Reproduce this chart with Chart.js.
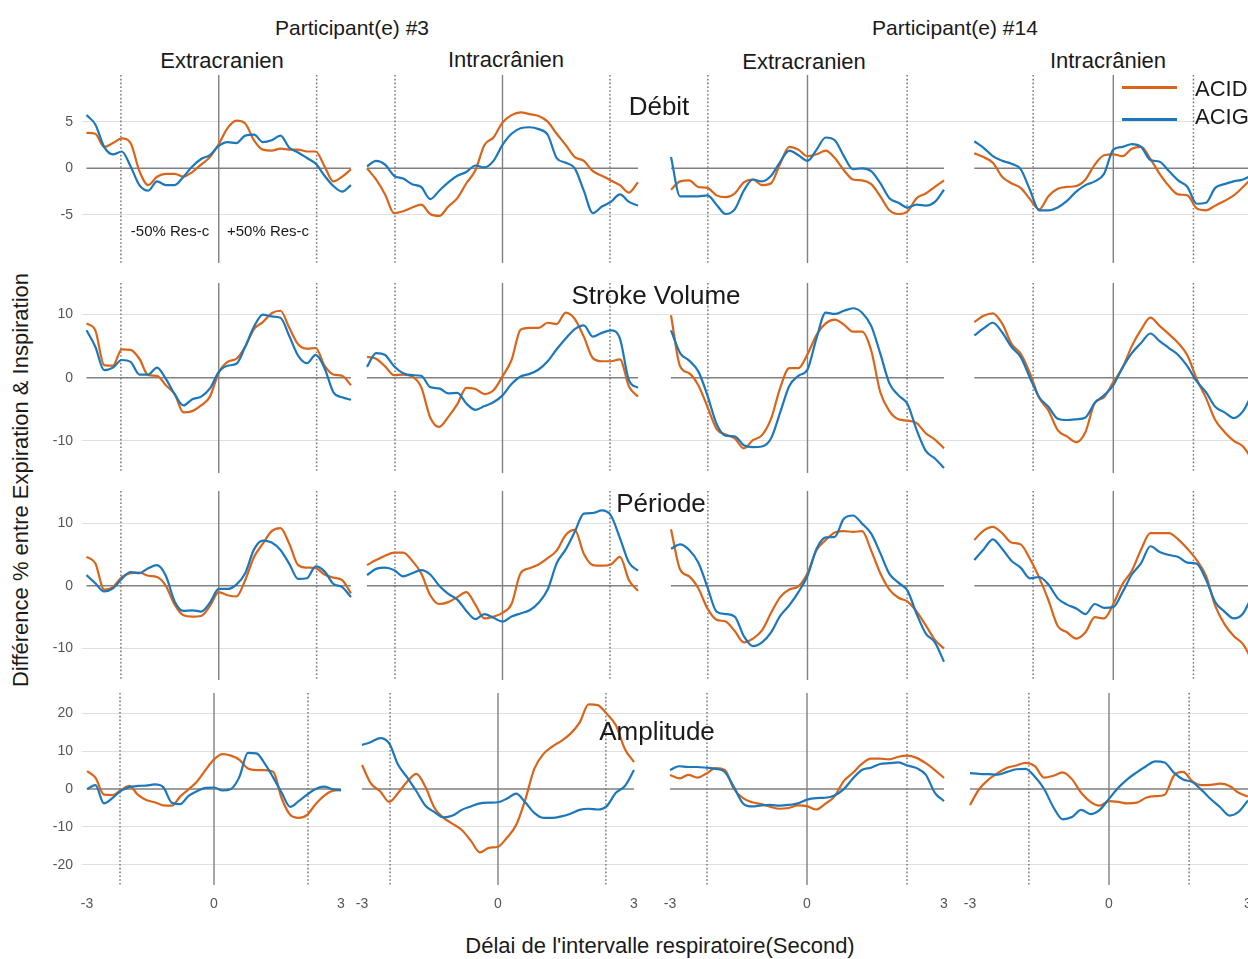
<!DOCTYPE html>
<html>
<head>
<meta charset="utf-8">
<script src="https://cdn.jsdelivr.net/npm/chart.js@4.4.1/dist/chart.umd.min.js"></script>
<style>
  body { margin: 0; width: 1248px; height: 959px; overflow: hidden; background: #fff; position: relative;
         font-family: "Liberation Sans", Arial, sans-serif; color: #1a1a1a; }
  canvas { position: absolute; }
  .t { position: absolute; white-space: nowrap; transform: translate(-50%, -50%); }
  .key { position: absolute; height: 2.5px; width: 55px; }
</style>
</head>
<body>
<script>
// respiratory delay (s), common to every panel
const delais = [-3,-2.8,-2.6,-2.4,-2.2,-2,-1.8,-1.6,-1.4,-1.2,-1,-0.8,-0.6,-0.4,-0.2,0,0.2,0.4,0.6,0.8,1,1.2,1.4,1.6,1.8,2,2.2,2.4,2.6,2.8,3];

const participants = ['Participant(e) #3', 'Participant(e) #14'];
const sites = ['Extracranien', 'Intracrânien', 'Extracranien', 'Intracrânien'];
const mesures = ['Débit', 'Stroke Volume', 'Période', 'Amplitude'];
const arteres = ['ACID', 'ACIG'];
const yTicks = [[-5, 0, 5], [-10, 0, 10], [-10, 0, 10], [-20, -10, 0, 10, 20]];
const xTicks = [-3, 0, 3];
const resC = [2.22, 2.38, 2.19, 1.73];   // ±50% Res-c per column

// Débit
const debitP3ExtraAcid = [3.8,3.7,2.3,2.7,3.2,2.7,-0.3,-1.8,-0.9,-0.6,-0.6,-0.9,-0.4,0.4,1.2,2.6,4.3,5.1,4.8,3.0,2.0,1.9,2.1,2.0,2.0,1.8,1.8,0.2,-1.4,-0.9,-0.1];
const debitP3ExtraAcig = [5.7,4.7,2.3,1.5,1.8,0.2,-1.8,-2.4,-1.4,-1.8,-1.8,-0.9,0.2,1.0,1.4,2.4,2.8,2.7,3.5,3.6,2.8,3.0,3.5,2.2,1.7,1.1,0.5,-0.8,-1.9,-2.5,-1.8];
const debitP3IntraAcid = [0.0,-1.2,-2.8,-4.8,-4.6,-4.2,-3.9,-4.9,-5.1,-4.1,-3.2,-1.6,-0.2,2.5,3.3,4.9,5.7,6.0,5.8,5.6,5.0,3.7,2.5,1.2,0.8,-0.3,-0.8,-1.3,-1.8,-2.6,-1.5];
const debitP3IntraAcig = [0.2,0.8,0.4,-0.8,-1.1,-1.7,-2.0,-3.3,-2.4,-1.5,-0.8,-0.4,0.3,0.1,0.8,2.5,3.7,4.3,4.4,4.2,3.6,1.1,0.6,0.0,-2.4,-4.8,-4.1,-3.6,-2.8,-3.6,-4.0];
const debitP14ExtraAcid = [-2.3,-1.4,-1.3,-2.0,-2.1,-2.9,-3.1,-2.7,-1.5,-1.2,-1.8,-1.6,0.5,2.3,2.0,1.3,1.5,1.9,1.1,-0.2,-1.2,-1.3,-1.7,-3.0,-4.5,-4.9,-4.6,-3.2,-2.7,-2.0,-1.3];
const debitP14ExtraAcig = [1.2,-3.0,-3.0,-3.0,-2.9,-3.9,-4.9,-4.4,-2.4,-1.2,-1.4,-0.8,0.7,1.9,1.4,0.8,2.0,3.3,3.0,1.3,-0.1,0.0,-0.3,-1.6,-3.2,-3.7,-4.2,-3.9,-4.0,-3.6,-2.3];
const debitP14IntraAcid = [1.6,1.2,0.6,-0.9,-1.6,-2.1,-3.3,-4.4,-3.0,-2.2,-2.0,-1.9,-1.2,0.4,1.4,1.5,1.3,2.1,2.3,1.0,-0.6,-1.9,-2.8,-2.9,-4.3,-4.5,-4.0,-3.5,-2.9,-2.0,-1.0];
const debitP14IntraAcig = [2.9,2.2,1.3,0.8,0.5,-0.1,-2.3,-4.5,-4.5,-4.2,-3.5,-2.5,-1.8,-1.4,-0.6,2.0,2.3,2.6,2.3,0.9,0.7,-0.3,-1.3,-2.0,-3.8,-3.7,-2.1,-1.7,-1.4,-1.2,-0.7];

// Stroke Volume
const svP3ExtraAcid = [8.6,7.5,2.0,1.9,4.5,4.4,3.0,0.4,0.3,-1.2,-2.6,-5.5,-5.3,-4.4,-3.0,0.8,2.5,3.0,4.9,7.7,8.8,10.2,10.6,7.9,5.3,4.6,4.7,1.9,0.5,0.3,-1.2];
const svP3ExtraAcig = [7.5,4.9,1.2,1.6,2.8,2.5,0.5,0.5,1.6,-0.2,-2.6,-4.4,-3.4,-3.0,-1.7,0.9,1.9,2.2,4.9,8.1,10.0,9.7,9.5,6.6,3.5,2.3,3.6,1.5,-2.3,-3.1,-3.5];
const svP3IntraAcid = [3.3,3.0,1.8,0.4,0.5,0.2,-1.5,-6.3,-7.8,-6.2,-4.2,-1.6,-1.8,-2.6,-2.0,0.2,2.8,7.6,7.9,7.9,8.7,8.5,10.3,9.3,6.5,3.1,2.6,2.6,2.9,-1.4,-3.0];
const svP3IntraAcig = [1.7,3.9,3.6,1.8,0.7,0.4,0.3,-1.5,-1.7,-2.5,-2.4,-4.1,-5.1,-4.5,-3.9,-2.8,-1.0,0.2,0.6,1.3,2.6,4.5,6.2,7.7,8.3,6.5,7.1,7.5,6.2,-0.4,-1.6];
const svP14ExtraAcid = [9.9,1.8,0.7,-1.2,-4.6,-8.1,-9.0,-9.6,-11.2,-9.9,-9.1,-6.5,-1.6,1.5,1.5,3.7,6.8,8.6,9.2,8.4,7.3,7.3,4.3,-2.3,-5.3,-6.6,-6.8,-7.2,-8.8,-9.8,-11.2];
const svP14ExtraAcig = [7.5,3.9,2.7,1.0,-2.8,-7.3,-9.2,-9.3,-10.7,-11.0,-10.9,-9.6,-5.5,-1.3,0.3,1.3,6.3,10.3,10.1,10.6,11.0,10.3,8.2,3.8,-0.9,-2.8,-4.2,-8.3,-11.6,-12.8,-14.3];
const svP14IntraAcid = [8.8,9.8,10.2,8.6,5.4,3.8,0.7,-3.2,-5.2,-8.3,-9.3,-10.2,-8.6,-4.0,-3.1,-0.7,1.6,5.0,7.6,9.5,8.2,6.9,5.5,3.5,-0.2,-3.2,-6.7,-8.6,-10.0,-10.9,-13.0];
const svP14IntraAcig = [6.7,7.8,8.7,7.2,4.9,3.3,0.0,-3.1,-4.6,-6.5,-6.7,-6.6,-6.3,-4.0,-2.8,-1.2,1.6,3.9,5.5,7.0,5.8,4.7,3.6,1.8,-0.6,-2.3,-4.6,-5.5,-6.4,-5.3,-2.5];

// Période
const perP3ExtraAcid = [4.6,3.6,-0.6,-0.2,1.4,2.0,2.1,1.6,1.4,0.0,-3.0,-4.7,-4.9,-4.8,-3.2,-1.0,-1.5,-1.7,0.9,4.6,6.7,8.7,9.2,6.7,3.3,2.9,2.8,1.8,1.3,0.9,-1.2];
const perP3ExtraAcig = [1.7,0.4,-0.9,-0.4,1.1,2.2,2.0,2.8,3.3,1.6,-2.5,-4.0,-3.9,-4.1,-2.7,-0.5,-0.5,0.2,2.0,5.8,7.2,6.9,5.7,3.5,1.1,1.2,3.1,2.3,0.3,-0.2,-1.8];
const perP3IntraAcid = [3.3,4.1,4.8,5.3,5.3,4.0,2.0,-1.5,-2.9,-2.6,-1.8,-1.0,-3.0,-5.2,-4.9,-4.3,-2.9,2.0,2.8,3.4,4.4,5.6,8.1,8.9,5.1,3.3,3.2,3.4,4.6,0.9,-0.8];
const perP3IntraAcig = [1.7,2.7,2.9,2.5,1.5,2.0,2.5,1.8,0.0,-1.3,-2.2,-4.0,-5.3,-4.5,-5.1,-5.7,-4.9,-4.4,-3.9,-2.7,-0.6,3.6,5.8,8.6,11.5,11.6,12.0,11.2,7.6,3.7,2.4];
const perP14ExtraAcid = [9.0,2.6,1.5,-0.4,-3.6,-5.4,-5.7,-7.2,-9.0,-8.4,-7.1,-4.3,-1.8,-0.6,-0.1,2.0,5.7,7.3,8.5,8.7,8.6,8.7,5.6,2.0,-0.6,-1.9,-2.5,-4.1,-6.3,-8.6,-10.0];
const perP14ExtraAcig = [5.9,6.6,5.7,3.7,-0.2,-4.1,-4.5,-4.9,-8.0,-9.6,-9.0,-7.4,-4.8,-3.1,-1.0,1.6,5.9,7.7,7.8,10.7,11.2,9.9,8.3,5.2,1.9,0.5,-0.8,-4.5,-7.6,-9.0,-12.1];
const perP14IntraAcid = [7.3,8.8,9.4,8.4,6.9,6.6,4.3,1.3,-2.3,-6.4,-7.4,-8.4,-7.4,-5.0,-5.2,-2.9,0.3,2.4,5.8,8.4,8.4,8.4,7.4,5.9,4.1,1.6,-3.2,-6.1,-8.0,-9.3,-12.0];
const perP14IntraAcig = [4.1,5.8,7.4,5.9,4.0,2.9,1.2,1.4,0.2,-2.0,-3.0,-3.6,-4.5,-2.9,-3.5,-3.4,-1.0,1.8,3.6,6.3,5.4,4.9,4.6,3.7,3.5,1.0,-2.6,-4.1,-5.2,-4.4,-1.5];

// Amplitude
const ampP3ExtraAcid = [4.7,3.0,-1.5,-1.6,-0.3,0.8,-1.5,-2.9,-3.5,-4.3,-4.4,-2.0,-0.1,2.0,5.0,7.8,9.2,8.8,7.7,5.4,5.0,5.0,4.5,-2.5,-6.8,-7.6,-6.8,-4.0,-1.8,-0.5,-0.3];
const ampP3ExtraAcig = [0.0,1.0,-3.8,-2.4,-0.5,0.5,0.8,0.9,1.2,0.5,-3.6,-4.0,-1.8,-0.6,0.3,0.4,-0.4,0.0,3.2,9.5,9.4,6.7,3.0,-1.0,-4.7,-3.2,-1.5,0.0,0.6,0.0,-0.3];
const ampP3IntraAcid = [6.3,1.4,-0.6,-3.4,-1.0,2.0,4.0,0.5,-5.0,-7.6,-9.2,-10.8,-13.6,-16.7,-15.5,-15.2,-12.8,-9.5,-2.9,5.3,9.2,11.2,12.7,14.6,17.5,22.3,22.1,19.8,16.8,10.5,7.1];
const ampP3IntraAcig = [11.6,12.4,13.4,12.0,6.3,3.0,-0.6,-4.4,-6.1,-7.5,-7.0,-5.5,-4.6,-3.8,-3.6,-3.5,-2.5,-1.2,-3.5,-6.3,-7.6,-7.6,-7.2,-6.5,-5.5,-5.2,-5.4,-4.5,-1.0,0.8,5.0];
const ampP14ExtraAcid = [3.7,2.8,3.7,3.0,4.1,5.5,5.0,0.0,-2.4,-3.5,-4.0,-4.7,-5.2,-5.0,-4.3,-4.5,-5.4,-3.9,-2.0,2.0,4.2,6.6,8.0,8.0,7.8,8.5,8.8,8.2,6.8,5.0,2.9];
const ampP14ExtraAcig = [5.0,6.0,5.8,5.8,5.6,5.3,4.5,0.5,-3.8,-4.6,-4.3,-4.2,-4.4,-4.2,-3.8,-2.8,-2.4,-2.3,-1.7,-0.1,2.7,5.0,5.6,6.6,6.8,7.0,6.2,5.5,3.8,-1.0,-3.2];
const ampP14IntraAcid = [-4.2,0.0,2.5,4.2,5.6,6.2,6.9,6.0,3.0,3.5,4.4,2.6,-1.0,-3.4,-4.4,-3.2,-3.4,-3.8,-3.6,-2.3,-1.9,-1.5,3.5,4.5,2.0,1.0,1.1,1.4,0.8,-1.0,-2.0];
const ampP14IntraAcig = [4.2,4.0,3.9,3.8,4.5,5.2,5.3,3.2,0.0,-4.8,-8.0,-7.4,-5.5,-6.6,-5.5,-2.6,0.3,2.6,4.4,6.0,7.3,7.0,4.3,2.5,1.8,-0.3,-2.7,-4.8,-7.0,-6.0,-3.0];

const series = [
  [[debitP3ExtraAcid, debitP3ExtraAcig], [debitP3IntraAcid, debitP3IntraAcig], [debitP14ExtraAcid, debitP14ExtraAcig], [debitP14IntraAcid, debitP14IntraAcig]],
  [[svP3ExtraAcid, svP3ExtraAcig], [svP3IntraAcid, svP3IntraAcig], [svP14ExtraAcid, svP14ExtraAcig], [svP14IntraAcid, svP14IntraAcig]],
  [[perP3ExtraAcid, perP3ExtraAcig], [perP3IntraAcid, perP3IntraAcig], [perP14ExtraAcid, perP14ExtraAcig], [perP14IntraAcid, perP14IntraAcig]],
  [[ampP3ExtraAcid, ampP3ExtraAcig], [ampP3IntraAcid, ampP3IntraAcig], [ampP14ExtraAcid, ampP14ExtraAcig], [ampP14IntraAcid, ampP14IntraAcig]]
];

const colors = ['#d8651a', '#1c77bb'];
const family = '"Liberation Sans", Arial, sans-serif';
Chart.defaults.font.family = family;

// panel geometry (page px)
const colBox = [[82, 356], [356, 654], [654, 950], [950, 1248]];
const colSpan = [[86.5, 351], [367, 638], [671, 944], [974.3, 1252.3]];      // x=-3 .. x=3
const colSpanBottom = [[87, 341], [362, 634], [670, 944], [970, 1248]];
const rowBox = [
  { top: 75,  bottom: 263, min: -10.15, max: 10 },
  { top: 283, bottom: 473, min: -15.1,  max: 15 },
  { top: 491, bottom: 680, min: -15.0,  max: 15.1 },
  { top: 693, bottom: 885, min: -25.3,  max: 25.3 }
];
const axisW = 42, axisH = 28;

const refLines = {
  id: 'refLines',
  beforeDatasetsDraw(chart, args, opts) {
    const { ctx, chartArea: { top, bottom }, scales: { x, y } } = chart;
    ctx.save();
    ctx.strokeStyle = '#808080';
    ctx.lineWidth = 1.4;
    ctx.beginPath();
    ctx.moveTo(x.getPixelForValue(-3), y.getPixelForValue(0));
    ctx.lineTo(x.getPixelForValue(3), y.getPixelForValue(0));
    ctx.moveTo(x.getPixelForValue(0), top);
    ctx.lineTo(x.getPixelForValue(0), bottom);
    ctx.stroke();
    ctx.strokeStyle = '#777';
    ctx.lineWidth = 1.5;
    ctx.setLineDash([1.6, 2.2]);
    ctx.beginPath();
    [-opts.d, opts.d].forEach(v => {
      const px = x.getPixelForValue(v);
      ctx.moveTo(px, top);
      ctx.lineTo(px, bottom);
    });
    ctx.stroke();
    ctx.restore();
  }
};

mesures.forEach((m, r) => {
  sites.forEach((s, c) => {
    const [L, R] = colBox[c];
    const [a, b] = (r === 3 ? colSpanBottom : colSpan)[c];
    const u = (b - a) / 6;
    const padL = c === 0 ? axisW : 0;
    const padB = r === 3 ? axisH : 0;
    const box = rowBox[r];
    const cv = document.createElement('canvas');
    cv.width = R - L + padL;
    cv.height = box.bottom - box.top + padB;
    cv.style.left = (L - padL) + 'px';
    cv.style.top = box.top + 'px';
    document.body.appendChild(cv);

    const datasets = series[r][c].map((vals, k) => ({
      label: arteres[k],
      data: delais.map((x, i) => ({ x, y: vals[i] })),
      borderColor: colors[k],
      borderWidth: 2.2,
      pointRadius: 0,
      cubicInterpolationMode: 'monotone',
      order: 1 - k
    }));

    new Chart(cv, {
      type: 'line',
      data: { datasets },
      plugins: [refLines],
      options: {
        responsive: false, animation: false, events: [],
        layout: { padding: 0, autoPadding: false },
        plugins: { legend: { display: false }, tooltip: { enabled: false }, refLines: { d: resC[c] } },
        scales: {
          x: {
            type: 'linear', min: -3 - (a - L) / u, max: 3 + (R - b) / u,
            display: r === 3,
            grid: { display: false }, border: { display: false },
            afterBuildTicks: sc => { sc.ticks = xTicks.map(v => ({ value: v })); },
            afterFit: sc => { sc.height = padB; sc.paddingLeft = 0; sc.paddingRight = 0; },
            ticks: { color: '#555', font: { size: 14 }, padding: 3, maxRotation: 0, autoSkip: false }
          },
          y: {
            min: box.min, max: box.max,
            afterBuildTicks: sc => { sc.ticks = yTicks[r].map(v => ({ value: v })); },
            afterFit: sc => { sc.width = padL; sc.paddingTop = 0; sc.paddingBottom = 0; },
            grid: { drawTicks: false, lineWidth: 1, color: ctx => ctx.tick && ctx.tick.value === 0 ? 'rgba(0,0,0,0)' : '#e0e0e0' },
            border: { display: false },
            ticks: { display: c === 0, color: '#555', font: { size: 14 }, padding: 9 }
          }
        }
      }
    });
  });
});

// titles and labels
function text(str, x, y, size, extra) {
  const d = document.createElement('div');
  d.className = 't';
  d.textContent = str;
  d.style.left = x + 'px';
  d.style.top = y + 'px';
  d.style.fontSize = size + 'px';
  if (extra) d.style.transform = extra;
  document.body.appendChild(d);
  return d;
}
[[352, 28], [955, 28]].forEach(([x, y], i) => text(participants[i], x, y, 21));
[[222, 61], [506, 60], [804, 62], [1108, 61]].forEach(([x, y], i) => text(sites[i], x, y, 22));
[[659, 106], [656, 295], [661, 503], [657, 731]].forEach(([x, y], i) => text(mesures[i], x, y, 26));
text('Différence % entre Expiration & Inspiration', 21, 480, 22, 'translate(-50%, -50%) rotate(-90deg)');
text("Délai de l'intervalle respiratoire(Second)", 660, 946, 22);
text('-50% Res-c', 170, 230, 15);
text('+50% Res-c', 268, 230, 15);

// legend
[87, 119].forEach((y, k) => {
  const line = document.createElement('div');
  line.className = 'key';
  line.style.left = '1122px';
  line.style.top = (y - 1) + 'px';
  line.style.background = colors[k];
  document.body.appendChild(line);
  text(arteres[k], 1195, y + (k === 0 ? 2 : -2), 22, 'translate(0, -50%)');
});
</script>
</body>
</html>
